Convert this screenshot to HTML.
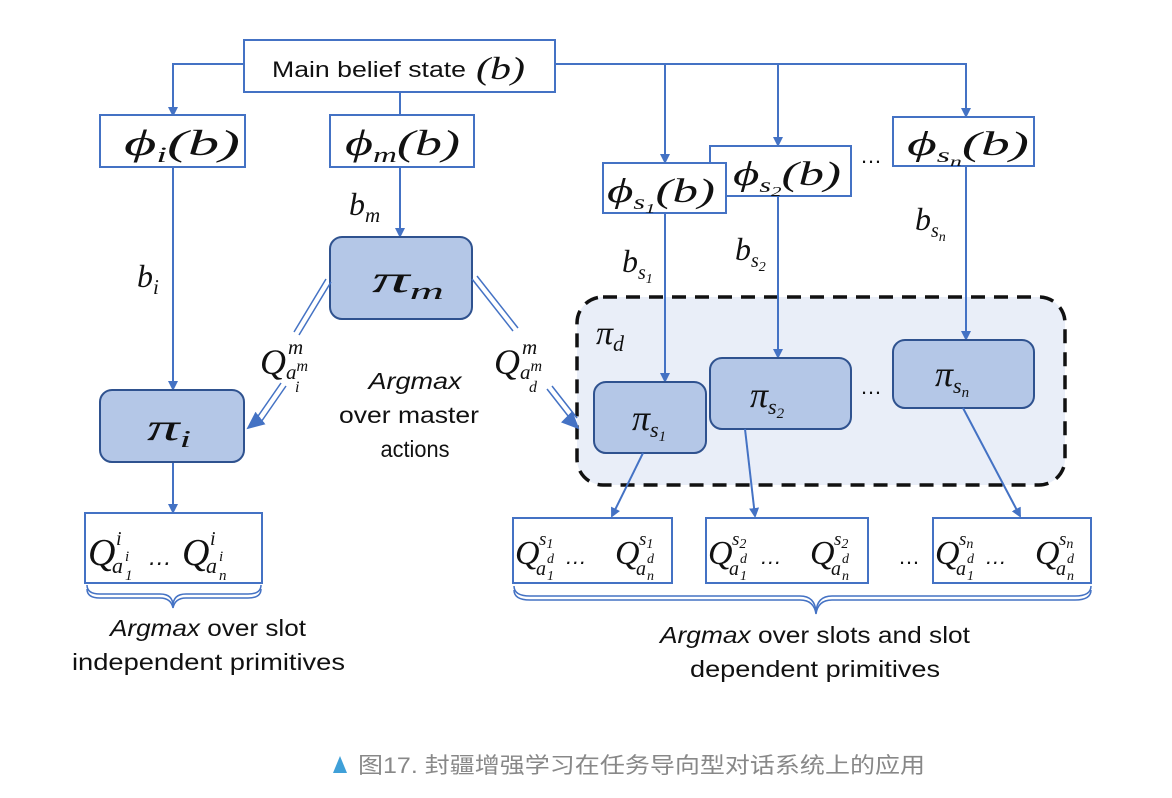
<!DOCTYPE html>
<html><head><meta charset="utf-8"><style>
html,body{margin:0;padding:0;background:#fff;}
svg{display:block}
.m{font-family:"Liberation Serif",serif;font-style:italic;fill:#111}
.s{font-family:"Liberation Sans",sans-serif;fill:#111}
</style></head><body>
<svg width="1172" height="798" viewBox="0 0 1172 798" xmlns="http://www.w3.org/2000/svg">
<defs>
<marker id="a" markerWidth="10" markerHeight="10" refX="8" refY="5" orient="auto" markerUnits="userSpaceOnUse"><path d="M0,0 L10,5 L0,10 z" fill="#4472c4"/></marker>
<marker id="b" markerWidth="20" markerHeight="20" refX="16" refY="10" orient="auto" markerUnits="userSpaceOnUse"><path d="M0,2 L18,10 L0,18 z" fill="#4472c4"/></marker>
</defs>
<g stroke="#4472c4" stroke-width="2" fill="none">
<polyline points="244,64 173,64 173,115" marker-end="url(#a)"/>
<line x1="400" y1="92" x2="400" y2="115"/>
<polyline points="555,64 966,64 966,116" marker-end="url(#a)"/>
<line x1="665" y1="64" x2="665" y2="162" marker-end="url(#a)"/>
<line x1="778" y1="64" x2="778" y2="145" marker-end="url(#a)"/>
</g>
<rect x="577" y="297" width="488" height="188" rx="26" fill="#e9eef8" stroke="#111" stroke-width="3.5" stroke-dasharray="14,9"/>
<g stroke="#4472c4" stroke-width="2" fill="#fff">
<rect x="244" y="40" width="311" height="52"/>
<rect x="100" y="115" width="145" height="52"/>
<rect x="330" y="115" width="144" height="52"/>
<rect x="710" y="146" width="141" height="50"/>
<rect x="603" y="163" width="123" height="50"/>
<rect x="893" y="117" width="141" height="49"/>
<rect x="85" y="513" width="177" height="70"/>
<rect x="513" y="518" width="159" height="65"/>
<rect x="706" y="518" width="162" height="65"/>
<rect x="933" y="518" width="158" height="65"/>
</g>
<g stroke="#4472c4" stroke-width="2" fill="none">
<line x1="173" y1="167" x2="173" y2="389" marker-end="url(#a)"/>
<line x1="400" y1="167" x2="400" y2="236" marker-end="url(#a)"/>
<line x1="665" y1="213" x2="665" y2="381" marker-end="url(#a)"/>
<line x1="778" y1="196" x2="778" y2="357" marker-end="url(#a)"/>
<line x1="966" y1="166" x2="966" y2="339" marker-end="url(#a)"/>
<line x1="173" y1="462" x2="173" y2="512" marker-end="url(#a)"/>
</g>
<g stroke="#2f528f" stroke-width="2" fill="#b4c7e7">
<rect x="100" y="390" width="144" height="72" rx="12"/>
<rect x="330" y="237" width="142" height="82" rx="12"/>
<rect x="710" y="358" width="141" height="71" rx="12"/>
<rect x="594" y="382" width="112" height="71" rx="12"/>
<rect x="893" y="340" width="141" height="68" rx="12"/>
</g>
<g stroke="#4472c4" stroke-width="2" fill="none">
<line x1="643" y1="453" x2="612" y2="516" marker-end="url(#a)"/>
<line x1="745" y1="429" x2="755" y2="516" marker-end="url(#a)"/>
<line x1="963" y1="408" x2="1020" y2="516" marker-end="url(#a)"/>
<g stroke-width="1.5">
<line x1="326" y1="279" x2="294" y2="332"/><line x1="331" y1="282" x2="299" y2="335"/>
<line x1="281" y1="383" x2="254" y2="422"/><line x1="286" y1="386" x2="259" y2="425"/>
<line x1="472" y1="279" x2="513" y2="331"/><line x1="477" y1="276" x2="518" y2="328"/>
<line x1="547" y1="389" x2="572" y2="421"/><line x1="552" y1="386" x2="577" y2="418"/>
</g>
<line x1="258" y1="420" x2="248" y2="428" marker-end="url(#b)"/>
<line x1="570" y1="420" x2="578" y2="428" marker-end="url(#b)"/>
<g stroke-width="1.5">
<path d="M87,585 Q87,594 100,594 L160,594 Q173,594 173,606 Q173,594 186,594 L248,594 Q261,594 261,585"/>
<path d="M87,589 Q87,598 100,598 L160,598 Q171,598 173,608 Q175,598 186,598 L248,598 Q261,598 261,589"/>
<path d="M514,586 Q514,596 530,596 L800,596 Q815,596 816,612 Q817,596 832,596 L1075,596 Q1091,596 1091,586"/>
<path d="M514,590 Q514,600 530,600 L800,600 Q814,600 816,614 Q818,600 832,600 L1075,600 Q1091,600 1091,590"/>
</g>
</g>
<text x="272" y="77" class="s" font-size="22" textLength="194" lengthAdjust="spacingAndGlyphs">Main belief state</text>
<text x="476" y="79" class="m" font-size="32" textLength="49" lengthAdjust="spacingAndGlyphs">(b)</text>
<text x="124" y="155" class="m" font-size="36" textLength="116" lengthAdjust="spacingAndGlyphs">ϕ<tspan font-size="22" dy="7">i</tspan><tspan dy="-7">(b)</tspan></text>
<text x="345" y="155" class="m" font-size="36" textLength="115" lengthAdjust="spacingAndGlyphs">ϕ<tspan font-size="22" dy="7">m</tspan><tspan dy="-7">(b)</tspan></text>
<text x="607" y="202" class="m" font-size="34" textLength="108" lengthAdjust="spacingAndGlyphs">ϕ<tspan font-size="20" dy="7">s</tspan><tspan font-size="14" dy="4">1</tspan><tspan dy="-11">(b)</tspan></text>
<text x="733" y="185" class="m" font-size="34" textLength="108" lengthAdjust="spacingAndGlyphs">ϕ<tspan font-size="20" dy="7">s</tspan><tspan font-size="14" dy="4">2</tspan><tspan dy="-11">(b)</tspan></text>
<text x="907" y="155" class="m" font-size="34" textLength="122" lengthAdjust="spacingAndGlyphs">ϕ<tspan font-size="20" dy="7">s</tspan><tspan font-size="14" dy="4">n</tspan><tspan dy="-11">(b)</tspan></text>
<text x="860" y="163" class="s" font-size="22">…</text>
<text x="137" y="287" class="m" font-size="32">b<tspan font-size="21" dy="7">i</tspan></text>
<text x="349" y="215" class="m" font-size="32">b<tspan font-size="21" dy="7">m</tspan></text>
<text x="622" y="272" class="m" font-size="32">b<tspan font-size="20" dy="7">s</tspan><tspan font-size="14" dy="4">1</tspan></text>
<text x="735" y="260" class="m" font-size="32">b<tspan font-size="20" dy="7">s</tspan><tspan font-size="14" dy="4">2</tspan></text>
<text x="915" y="230" class="m" font-size="32">b<tspan font-size="20" dy="7">s</tspan><tspan font-size="14" dy="4">n</tspan></text>
<text x="147" y="440" class="m" font-size="38" textLength="44" lengthAdjust="spacingAndGlyphs">π<tspan font-size="24" dy="7">i</tspan></text>
<text x="372" y="292" class="m" font-size="38" textLength="72" lengthAdjust="spacingAndGlyphs">π<tspan font-size="24" dy="7">m</tspan></text>
<text x="632" y="430" class="m" font-size="36">π<tspan font-size="22" dy="7">s</tspan><tspan font-size="15" dy="4">1</tspan></text>
<text x="750" y="407" class="m" font-size="36">π<tspan font-size="22" dy="7">s</tspan><tspan font-size="15" dy="4">2</tspan></text>
<text x="935" y="386" class="m" font-size="36">π<tspan font-size="22" dy="7">s</tspan><tspan font-size="15" dy="4">n</tspan></text>
<text x="860" y="394" class="s" font-size="22">…</text>
<text x="596" y="344" class="m" font-size="34">π<tspan font-size="22" dy="7">d</tspan></text>
<text x="260" y="374" class="m" font-size="36">Q</text>
<text x="288" y="354" class="m" font-size="21">m</text>
<text x="286" y="379" class="m" font-size="21">a<tspan font-size="16" dy="-8">m</tspan></text>
<text x="295" y="392" class="m" font-size="16">i</text>
<text x="494" y="374" class="m" font-size="36">Q</text>
<text x="522" y="354" class="m" font-size="21">m</text>
<text x="520" y="379" class="m" font-size="21">a<tspan font-size="16" dy="-8">m</tspan></text>
<text x="529" y="392" class="m" font-size="16">d</text>
<text x="415" y="389" class="s" font-size="23" font-style="italic" text-anchor="middle" textLength="93" lengthAdjust="spacingAndGlyphs">Argmax</text>
<text x="409" y="423" class="s" font-size="23" text-anchor="middle" textLength="140" lengthAdjust="spacingAndGlyphs">over master</text>
<text x="415" y="457" class="s" font-size="23" text-anchor="middle" textLength="69" lengthAdjust="spacingAndGlyphs">actions</text>
<g class="m">
<text x="88" y="565" font-size="38">Q</text><text x="116" y="545" font-size="20">i</text><text x="112" y="573" font-size="22">a</text><text x="125" y="561" font-size="15">i</text><text x="125" y="580" font-size="15">1</text>
<text x="148" y="565" font-size="24" class="s">…</text>
<text x="182" y="565" font-size="38">Q</text><text x="210" y="545" font-size="20">i</text><text x="206" y="573" font-size="22">a</text><text x="219" y="561" font-size="15">i</text><text x="219" y="580" font-size="15">n</text>
</g>
<g class="m">
<g transform="translate(515,0)">
<text x="0" y="564" font-size="34">Q</text><text x="24" y="545" font-size="19">s<tspan font-size="14" dy="3">1</tspan></text><text x="21" y="575" font-size="20">a</text><text x="32" y="563" font-size="14">d</text><text x="32" y="580" font-size="14">1</text>
<text x="50" y="564" font-size="22" class="s">…</text>
<text x="100" y="564" font-size="34">Q</text><text x="124" y="545" font-size="19">s<tspan font-size="14" dy="3">1</tspan></text><text x="121" y="575" font-size="20">a</text><text x="132" y="563" font-size="14">d</text><text x="132" y="580" font-size="14">n</text>
</g>
<g transform="translate(708,0)">
<text x="0" y="564" font-size="34">Q</text><text x="24" y="545" font-size="19">s<tspan font-size="14" dy="3">2</tspan></text><text x="21" y="575" font-size="20">a</text><text x="32" y="563" font-size="14">d</text><text x="32" y="580" font-size="14">1</text>
<text x="52" y="564" font-size="22" class="s">…</text>
<text x="102" y="564" font-size="34">Q</text><text x="126" y="545" font-size="19">s<tspan font-size="14" dy="3">2</tspan></text><text x="123" y="575" font-size="20">a</text><text x="134" y="563" font-size="14">d</text><text x="134" y="580" font-size="14">n</text>
</g>
<g transform="translate(935,0)">
<text x="0" y="564" font-size="34">Q</text><text x="24" y="545" font-size="19">s<tspan font-size="14" dy="3">n</tspan></text><text x="21" y="575" font-size="20">a</text><text x="32" y="563" font-size="14">d</text><text x="32" y="580" font-size="14">1</text>
<text x="50" y="564" font-size="22" class="s">…</text>
<text x="100" y="564" font-size="34">Q</text><text x="124" y="545" font-size="19">s<tspan font-size="14" dy="3">n</tspan></text><text x="121" y="575" font-size="20">a</text><text x="132" y="563" font-size="14">d</text><text x="132" y="580" font-size="14">n</text>
</g>
</g>
<text x="898" y="564" class="s" font-size="22">…</text>
<text x="110" y="636" class="s" font-size="23" textLength="196" lengthAdjust="spacingAndGlyphs"><tspan font-style="italic">Argmax</tspan> over slot</text>
<text x="72" y="670" class="s" font-size="23" textLength="273" lengthAdjust="spacingAndGlyphs">independent primitives</text>
<text x="660" y="643" class="s" font-size="23" textLength="310" lengthAdjust="spacingAndGlyphs"><tspan font-style="italic">Argmax</tspan> over slots and slot</text>
<text x="690" y="677" class="s" font-size="23" textLength="250" lengthAdjust="spacingAndGlyphs">dependent primitives</text>
<path d="M333,773 L340,756 L347,773 z" fill="#3fa0d8"/>
<text x="358" y="773" font-family="'Liberation Sans','Noto Sans CJK SC',sans-serif" font-size="22" fill="#888" textLength="567" lengthAdjust="spacingAndGlyphs">图17. 封疆增强学习在任务导向型对话系统上的应用</text>
</svg>
</body></html>
